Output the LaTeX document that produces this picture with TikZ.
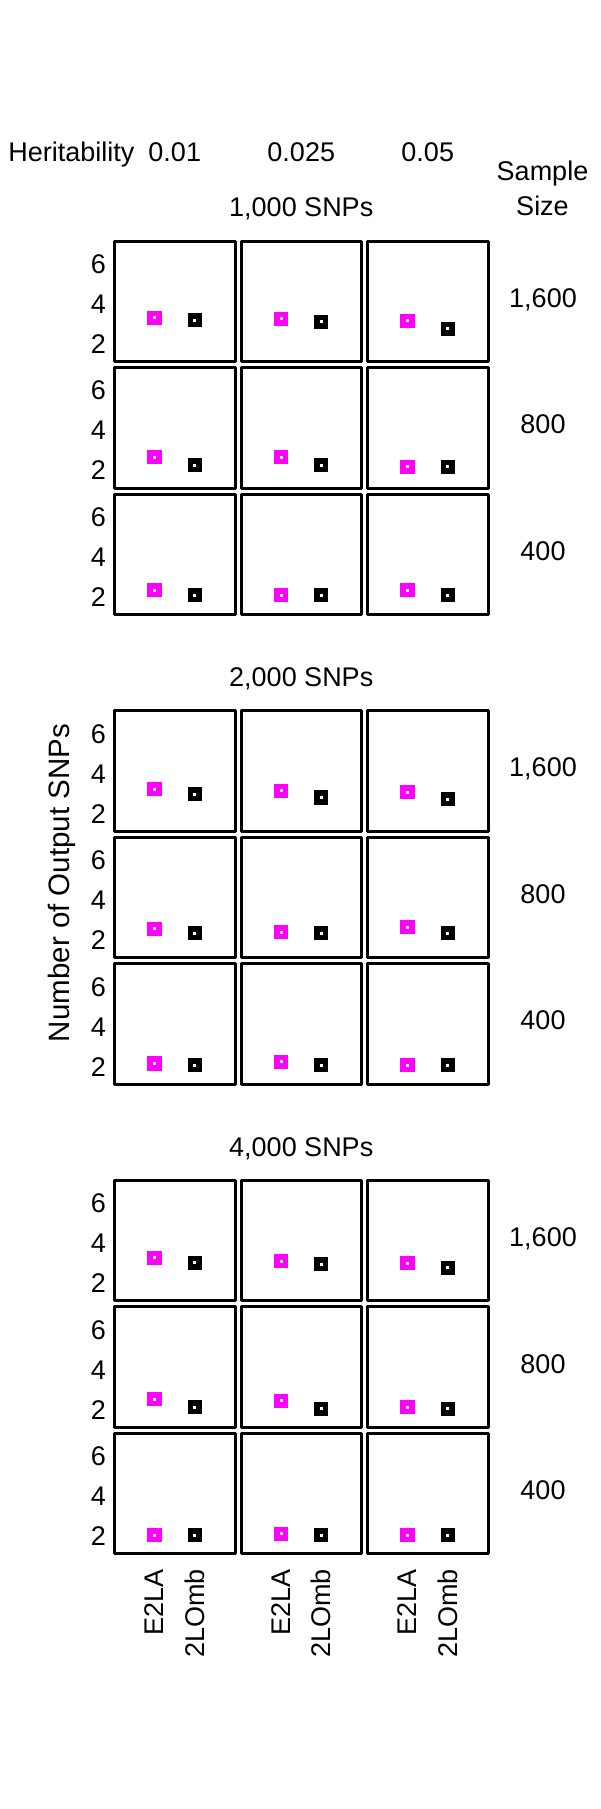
\documentclass[tikz,border=0pt]{standalone}
\usepackage{fontspec}
\setmainfont{Liberation Sans}
\definecolor{mag}{RGB}{255,0,255}
\begin{document}
\begin{tikzpicture}[x=1pt,y=-1pt,
  font=\fontsize{27}{32}\selectfont,
  panel/.style={draw, line width=3pt, line join=round, minimum width=120.5pt, minimum height=120.5pt, inner sep=0pt, outer sep=0pt},
  mk/.style={draw=#1, fill=white, line width=5.6pt, minimum size=8.6pt, inner sep=0pt, outer sep=0pt, rectangle},
  lab/.style={inner sep=0pt, outer sep=0pt}]
\fill[white] (0,0) rectangle (600,1809);
\useasboundingbox (0,0) rectangle (600,1809);

% header
\node[lab, anchor=base west] (her) at (8.3,161.7) {Heritability};
\node[lab, anchor=base] (h1) at (174.75,161.7) {0.01};
\node[lab, anchor=base] (h2) at (301.25,161.7) {0.025};
\node[lab, anchor=base] (h3) at (427.75,161.7) {0.05};
\node[lab, anchor=base] (ss1) at (542.5,180) {Sample};
\node[lab, anchor=base] (ss2) at (542.5,215) {Size};

% y axis title
\node[lab, rotate=90, anchor=base, font=\fontsize{29.5}{34}\selectfont] (ylab) at (69,883) {Number of Output SNPs};

% blocks
\foreach \b/\T/\title in {1/241/{1,000 SNPs}, 2/710.7/{2,000 SNPs}, 3/1180.4/{4,000 SNPs}}{
  \node[lab, anchor=base] (title\b) at (301.25,{\T-24.3}) {\title};
  \foreach \r/\s in {0/{1,600}, 1/800, 2/400}{
    \pgfmathsetmacro\yy{\T+126.5*\r}
    \node[lab, anchor=base] (size\b\r) at (543,{\yy+60.5-4+9.7}) {\s};
    \foreach \v/\o in {6/22.7, 4/62.7, 2/102.7}{
      \node[lab, anchor=base east] (t\b\r\v) at (106,{\yy+\o+9.7}) {\v};
    }
    \foreach \c in {0,1,2}{
      \node[panel] (p\b\r\c) at ({174.75+126.5*\c},{\yy+60.25}) {};
    }
  }
}

% markers
\foreach \b/\r/\c/\m/\k in {
 1/0/0/3.30/3.17, 1/0/1/3.24/3.09, 1/0/2/3.15/2.75,
 1/1/0/2.66/2.26, 1/1/1/2.66/2.26, 1/1/2/2.18/2.18,
 1/2/0/2.33/2.08, 1/2/1/2.08/2.08, 1/2/2/2.33/2.08,
 2/0/0/3.21/2.97, 2/0/1/3.13/2.80, 2/0/2/3.06/2.72,
 2/1/0/2.55/2.33, 2/1/1/2.38/2.33, 2/1/2/2.63/2.33,
 2/2/0/2.15/2.07, 2/2/1/2.24/2.07, 2/2/2/2.07/2.07,
 3/0/0/3.26/3.02, 3/0/1/3.10/2.94, 3/0/2/3.00/2.77,
 3/1/0/2.53/2.13, 3/1/1/2.45/2.05, 3/1/2/2.13/2.05,
 3/2/0/2.04/2.04, 3/2/1/2.12/2.04, 3/2/2/2.04/2.04}{
  \pgfmathsetmacro\xl{114.5+126.5*\c}
  \pgfmathsetmacro\yt{241+469.7*(\b-1)+126.5*\r}
  \node[mk=mag] (e\b\r\c) at ({\xl+40},{\yt+102.7-(\m-2)*20}) {};
  \node[mk=black] (o\b\r\c) at ({\xl+80.3},{\yt+102.7-(\k-2)*20}) {};
}

% bottom method labels
\foreach \c in {0,1,2}{
  \node[lab, rotate=90, anchor=east] (la\c) at ({114.5+126.5*\c+40},1569) {E2LA};
  \node[lab, rotate=90, anchor=east] (lb\c) at ({114.5+126.5*\c+80.3},1569) {2LOmb};
}
\end{tikzpicture}
\end{document}
